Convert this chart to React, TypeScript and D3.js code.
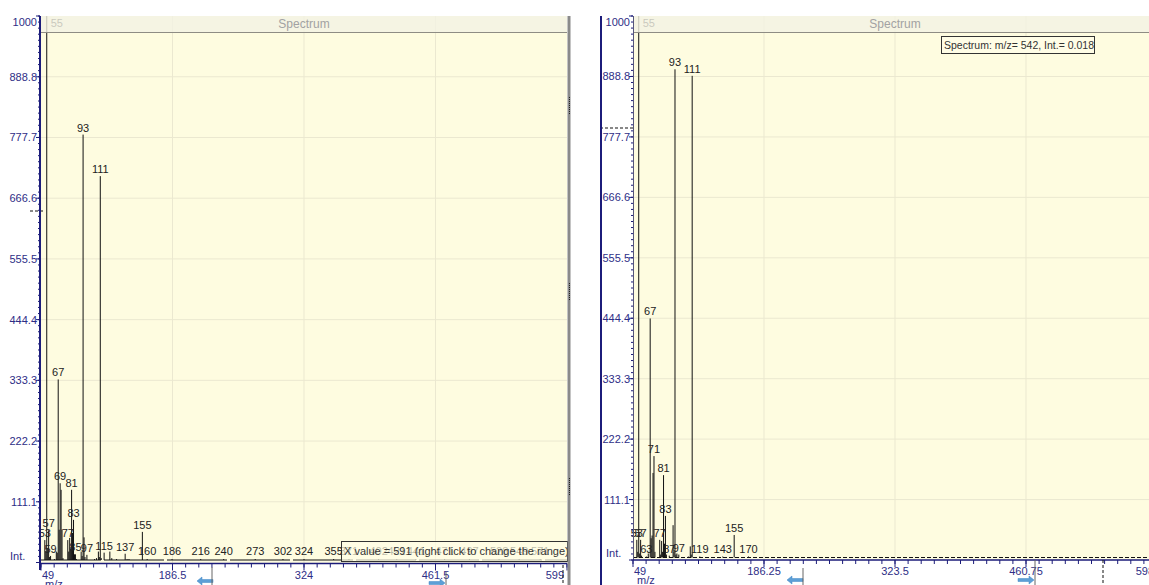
import React, { useEffect, useRef } from "react";
import * as d3 from "d3";

// left window: spectrum of first scan
const leftMz = [53, 54, 55, 56, 57, 58, 59, 63, 65, 66, 67, 68, 69, 70, 71, 72, 77, 78, 79, 80, 81, 82, 83, 84, 85, 86, 91, 92, 93, 94, 95, 97, 105, 107, 109, 110, 111, 112, 115, 121, 123, 128, 137, 139, 141, 155, 160, 186, 216, 240, 273, 302, 324, 355, 371, 402, 421, 441, 471, 497, 528, 549, 571];
const leftInt = [41, 20, 1000, 25, 59, 10, 12, 5, 20, 18, 335, 60, 145, 133, 60, 8, 41, 20, 45, 25, 133, 54, 78, 15, 15, 5, 20, 12, 783, 46, 10, 14, 6, 8, 20, 10, 707, 8, 18, 20, 8, 6, 16, 6, 5, 56, 4, 3, 3, 3, 3, 3, 3, 3, 2, 2, 2, 2, 2, 2, 2, 2, 2];
const leftLabels = [53, 55, 57, 59, 67, 69, 77, 81, 83, 85, 93, 97, 111, 115, 137, 155, 160, 186, 216, 240, 273, 302, 324, 355, 371, 402, 421, 441, 471, 497, 528, 549, 571];
const leftXTicks = [49, 186.5, 324, 461.5, 599];

// right window: spectrum of second scan
const rightMz = [53, 54, 55, 56, 57, 58, 63, 65, 67, 68, 69, 70, 71, 72, 77, 78, 79, 80, 81, 82, 83, 84, 87, 91, 92, 93, 94, 95, 97, 107, 109, 110, 111, 119, 143, 155, 170];
const rightInt = [37, 15, 1000, 12, 37, 8, 6, 12, 444, 40, 45, 160, 191, 15, 37, 10, 35, 15, 156, 30, 81, 10, 8, 64, 15, 902, 10, 12, 10, 6, 25, 10, 890, 5, 4, 46, 3];
const rightLabels = [53, 55, 57, 63, 67, 71, 77, 81, 83, 87, 93, 97, 111, 119, 143, 155, 170];
const rightXTicks = [49, 186.25, 323.5, 460.75, 598];

const yTicks = [0, 111.1, 222.2, 333.3, 444.4, 555.5, 666.6, 777.7, 888.8, 1000];
const yTickText = ["Int.", "111.1", "222.2", "333.3", "444.4", "555.5", "666.6", "777.7", "888.8", "1000"];

const W = 1149, H = 585;
const FONT = "'Liberation Sans', Arial, sans-serif";
const NAVY = "#1c1c7a";
const NAVY_TEXT = "#2e2e86";

const panels = [
  {
    mz: leftMz, ints: leftInt, labels: leftLabels, xTicks: leftXTicks,
    plotL: 41, plotR: 567, top: 16, zeroY: 562.5, axisY: 563.5,
    tickX: 40, labelX: 37, intX: 10, baseDash: "60,3",
    hCursor: [30, 44, 211], vCursor: [563, 565],
    arrows: [[205, 581, -1, 212, 567], [437, 583, 1, 446, 572]],
    tip: { x: 341, y: 541, w: 226, h: 20, size: 11, text: "X value = 591 (right click to change the range)", fill: 0.7 },
  },
  {
    mz: rightMz, ints: rightInt, labels: rightLabels, xTicks: rightXTicks,
    plotL: 633, plotR: 1157, top: 16, zeroY: 560, axisY: 560,
    tickX: 633, labelX: 630, intX: 606, baseDash: "4,2",
    hCursor: [600, 634, 128], vCursor: [1103, 560],
    arrows: [[795, 580, -1, 803, 568], [1026, 580, 1, 1035, 560]],
    tip: { x: 941, y: 36, w: 153, h: 17, size: 10.5, text: "Spectrum: m/z= 542, Int.= 0.018", fill: 1 },
  },
];

function drawPanel(g, p) {
  const x = d3.scaleLinear().domain([p.xTicks[0], p.xTicks[p.xTicks.length - 1]]).range([p.plotL, p.plotR]);
  const y = d3.scaleLinear().domain([0, 1000]).range([p.zeroY, p.top]);
  const base = y(0) - 2.5;
  const peaks = p.mz.map((m, i) => ({ m, v: p.ints[i] }));

  g.append("rect")
    .attr("x", p.plotL).attr("y", p.top)
    .attr("width", p.plotR - p.plotL).attr("height", p.axisY - p.top)
    .attr("fill", "#fefce0");

  g.selectAll(".vgrid").data(p.xTicks.slice(1, -1)).join("line")
    .attr("x1", (d) => x(d)).attr("x2", (d) => x(d))
    .attr("y1", p.top).attr("y2", p.axisY)
    .attr("stroke", "#ebe8d0");
  g.selectAll(".hgrid").data(yTicks.slice(1, -1)).join("line")
    .attr("x1", p.plotL).attr("x2", p.plotR)
    .attr("y1", (d) => y(d)).attr("y2", (d) => y(d))
    .attr("stroke", "#ebe8d0");

  g.append("line")
    .attr("x1", p.plotL).attr("x2", p.plotR).attr("y1", base).attr("y2", base)
    .attr("stroke", "#111").attr("stroke-dasharray", p.baseDash);

  g.selectAll(".peak").data(peaks).join("line")
    .attr("x1", (d) => x(d.m)).attr("x2", (d) => x(d.m))
    .attr("y1", base).attr("y2", (d) => Math.min(y(d.v), base - 1))
    .attr("stroke", "#111").attr("stroke-width", 1);

  const labelled = peaks.filter((d) => p.labels.includes(d.m));
  g.selectAll(".plabel").data(labelled).join("text")
    .attr("x", (d) => (y(d.v) - 4 < p.top + 14 ? x(d.m) + 4 : x(d.m)))
    .attr("y", (d) => (y(d.v) - 4 < p.top + 14 ? p.top + 11 : Math.min(y(d.v), base - 2) - 3))
    .attr("text-anchor", (d) => (y(d.v) - 4 < p.top + 14 ? "start" : "middle"))
    .attr("font-family", FONT).attr("font-size", 11).attr("fill", "#222")
    .text((d) => d.m);

  // header band
  g.append("rect")
    .attr("x", p.plotL).attr("y", p.top).attr("width", p.plotR - p.plotL).attr("height", 16)
    .attr("fill", "#f3f1e3").attr("opacity", 0.8);
  g.append("line")
    .attr("x1", p.plotL).attr("x2", p.plotR).attr("y1", p.top + 16.5).attr("y2", p.top + 16.5)
    .attr("stroke", "#8e8c84");
  g.append("text")
    .attr("x", (p.plotL + p.plotR) / 2).attr("y", p.top + 12)
    .attr("text-anchor", "middle").attr("font-family", FONT).attr("font-size", 12)
    .attr("fill", "#a2a2a2").text("Spectrum");

  // y axis
  const minorY = d3.range(0, 91).map((i) => (i * 1000) / 90);
  g.selectAll(".ymin").data(minorY).join("line")
    .attr("x1", p.tickX - 2).attr("x2", p.tickX)
    .attr("y1", (d) => y(d)).attr("y2", (d) => y(d))
    .attr("stroke", NAVY);
  g.selectAll(".ymaj").data(yTicks).join("line")
    .attr("x1", p.tickX - 4).attr("x2", p.tickX)
    .attr("y1", (d) => y(d)).attr("y2", (d) => y(d))
    .attr("stroke", NAVY);
  g.selectAll(".ylab").data(yTicks).join("text")
    .attr("x", (d) => (d === 0 ? p.intX : p.labelX))
    .attr("y", (d) => (d === 0 ? y(d) - 3 : Math.max(y(d) + 4, p.top + 10)))
    .attr("text-anchor", (d) => (d === 0 ? "start" : "end"))
    .attr("font-family", FONT).attr("font-size", 11)
    .attr("fill", NAVY_TEXT)
    .text((d, i) => yTickText[i]);
  g.append("line")
    .attr("x1", p.tickX + 0.5).attr("x2", p.tickX + 0.5).attr("y1", p.top).attr("y2", p.axisY)
    .attr("stroke", "#55557a");

  // x axis
  const x0 = p.xTicks[0], x1 = p.xTicks[p.xTicks.length - 1];
  const minorX = d3.range(0, 41).map((i) => x0 + ((x1 - x0) * i) / 40);
  g.append("line")
    .attr("x1", p.plotL).attr("x2", p.plotR).attr("y1", p.axisY).attr("y2", p.axisY)
    .attr("stroke", NAVY).attr("stroke-width", 1.5);
  g.selectAll(".xmin").data(minorX).join("line")
    .attr("x1", (d) => x(d)).attr("x2", (d) => x(d))
    .attr("y1", p.axisY).attr("y2", p.axisY + 4)
    .attr("stroke", NAVY);
  g.selectAll(".xmaj").data(p.xTicks).join("line")
    .attr("x1", (d) => x(d)).attr("x2", (d) => x(d))
    .attr("y1", p.axisY).attr("y2", p.axisY + 7)
    .attr("stroke", NAVY);
  const nx = p.xTicks.length;
  g.selectAll(".xlab").data(p.xTicks).join("text")
    .attr("x", (d, i) => (i === 0 ? x(d) + 1 : i === nx - 1 ? x(d) - 3 : x(d)))
    .attr("y", p.axisY + 15)
    .attr("text-anchor", (d, i) => (i === 0 ? "start" : i === nx - 1 ? "end" : "middle"))
    .attr("font-family", FONT).attr("font-size", 11).attr("fill", NAVY_TEXT)
    .text((d) => d);
  g.append("text")
    .attr("x", p.plotL + 4).attr("y", p.axisY + 24)
    .attr("font-family", FONT).attr("font-size", 11).attr("fill", NAVY_TEXT)
    .text("m/z");

  // cursors
  g.append("line")
    .attr("x1", p.hCursor[0]).attr("x2", p.hCursor[1]).attr("y1", p.hCursor[2]).attr("y2", p.hCursor[2])
    .attr("stroke", "#111").attr("stroke-dasharray", "3,2");
  g.append("line")
    .attr("x1", p.vCursor[0]).attr("x2", p.vCursor[0]).attr("y1", p.vCursor[1]).attr("y2", H)
    .attr("stroke", "#111").attr("stroke-dasharray", "3,2");

  // range arrows
  p.arrows.forEach(([cx, cy, dir, lx, ly]) => {
    const hx = cx + dir * 8;
    const tx = cx - dir * 8;
    g.append("path")
      .attr("d", `M${tx},${cy - 1.5}L${cx + dir * 3},${cy - 1.5}L${cx + dir * 3},${cy - 4}L${hx},${cy}L${cx + dir * 3},${cy + 4}L${cx + dir * 3},${cy + 1.5}L${tx},${cy + 1.5}Z`)
      .attr("fill", "#5d9fd6").attr("stroke", "#3f86c6").attr("stroke-width", 0.5);
    g.append("line")
      .attr("x1", lx).attr("x2", lx).attr("y1", ly).attr("y2", H)
      .attr("stroke", "#666");
  });

  // tooltip
  g.append("rect")
    .attr("x", p.tip.x + 0.5).attr("y", p.tip.y + 0.5).attr("width", p.tip.w).attr("height", p.tip.h)
    .attr("fill", "#fffde6").attr("fill-opacity", p.tip.fill).attr("stroke", "#333");
  g.append("text")
    .attr("x", p.tip.x + 3).attr("y", p.tip.y + p.tip.h / 2 + 4)
    .attr("font-family", FONT).attr("font-size", p.tip.size).attr("fill", "#333")
    .text(p.tip.text);
}

export default function App() {
  const ref = useRef(null);

  useEffect(() => {
    const svg = d3.select(ref.current);
    svg.selectAll("*").remove();

    panels.forEach((p) => drawPanel(svg.append("g"), p));

    // window frames
    svg.append("line").attr("x1", 40).attr("x2", 40).attr("y1", 16).attr("y2", 570)
      .attr("stroke", NAVY).attr("stroke-width", 2);
    svg.append("line").attr("x1", 569).attr("x2", 569).attr("y1", 16).attr("y2", H)
      .attr("stroke", "#8a8a8a").attr("stroke-width", 3);
    [[97, 115], [283, 300], [478, 495]].forEach(([a, b]) => {
      svg.append("line").attr("x1", 569.5).attr("x2", 569.5).attr("y1", a).attr("y2", b)
        .attr("stroke", "#222").attr("stroke-dasharray", "1,1");
    });
    svg.append("line").attr("x1", 601).attr("x2", 601).attr("y1", 16).attr("y2", H)
      .attr("stroke", NAVY).attr("stroke-width", 2);
  }, []);

  return (
    <svg
      ref={ref}
      width={W}
      height={H}
      style={{ position: "absolute", left: 0, top: 0, background: "#fff" }}
    />
  );
}
